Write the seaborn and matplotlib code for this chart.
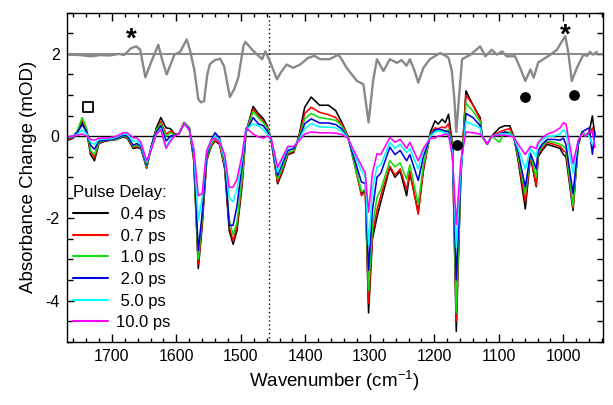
import matplotlib
matplotlib.use("Agg")
import matplotlib.pyplot as plt
from matplotlib.ticker import MultipleLocator
import pandas as pd
import seaborn as sns

# transient IR difference spectra, one list per pulse delay (mOD)
wavenumber = [1768, 1760, 1753, 1746, 1739, 1733, 1727, 1720, 1710, 1700,
              1692, 1683, 1676, 1667, 1661, 1655, 1646, 1638, 1631, 1624,
              1616, 1609, 1603, 1596, 1588, 1580, 1573, 1566, 1560, 1553,
              1546, 1540, 1533, 1525, 1518, 1512, 1506, 1498, 1492, 1481,
              1473, 1465, 1459, 1453, 1443, 1435, 1427, 1418, 1410, 1401,
              1391, 1378, 1364, 1353, 1344, 1334, 1325, 1313, 1307, 1302,
              1296, 1289, 1283, 1269, 1261, 1253, 1243, 1238, 1225, 1217,
              1206, 1199, 1194, 1188, 1183, 1178, 1172, 1166, 1159, 1151,
              1140, 1129, 1126, 1118, 1111, 1099, 1091, 1083, 1077, 1070,
              1059, 1051, 1042, 1039, 1033, 1025, 1015, 1005, 1000, 996,
              985, 977, 971, 966, 960, 955, 951]

delay_04 = [-0.10, -0.05, 0.10, 0.35, 0.10, -0.45, -0.60, -0.18, -0.12, -0.10,
            -0.08, -0.02, -0.05, -0.30, -0.28, -0.30, -0.78, -0.20, 0.20, 0.45,
            0.20, 0.18, 0.05, 0.05, 0.33, 0.20, -0.60, -3.22, -2.20, -0.60,
            -0.25, -0.12, -0.20, -0.80, -2.30, -2.63, -2.30, -1.20, 0.10, 0.72,
            0.55, 0.42, 0.25, -0.10, -1.16, -0.85, -0.45, -0.40, 0.00, 0.70,
            0.95, 0.75, 0.75, 0.62, 0.35, 0.00, -0.60, -1.40, -1.30, -4.30,
            -2.50, -1.97, -1.60, -0.76, -1.00, -0.85, -1.45, -0.90, -1.85, -0.84,
            0.10, 0.37, 0.29, 0.41, 0.33, 0.53, -0.20, -4.75, -1.00, 1.10,
            0.75, 0.45, 0.00, -0.20, 0.00, 0.20, 0.25, 0.25, 0.00, -0.60,
            -1.77, -0.50, -1.23, -0.50, -0.35, -0.20, -0.25, -0.30, -0.45, -0.50,
            -1.81, -0.20, 0.10, 0.00, 0.10, 0.49, 0.00]

delay_07 = [-0.08, -0.03, 0.12, 0.40, 0.15, -0.38, -0.52, -0.16, -0.11, -0.09,
            -0.07, 0.00, -0.03, -0.27, -0.25, -0.28, -0.76, -0.22, 0.15, 0.35,
            0.05, 0.12, 0.05, 0.05, 0.33, 0.20, -0.55, -3.12, -2.10, -0.58,
            -0.22, -0.10, -0.18, -0.75, -2.20, -2.55, -2.20, -1.10, 0.10, 0.65,
            0.50, 0.36, 0.22, -0.10, -1.12, -0.80, -0.43, -0.38, -0.02, 0.55,
            0.70, 0.58, 0.52, 0.45, 0.30, 0.00, -0.60, -1.45, -1.35, -4.07,
            -2.40, -1.80, -1.45, -0.73, -0.95, -0.80, -1.30, -0.85, -1.90, -0.80,
            0.05, 0.20, 0.18, 0.22, 0.20, 0.30, -0.20, -4.50, -0.90, 1.00,
            0.75, 0.40, 0.00, -0.20, 0.00, 0.10, 0.15, 0.18, 0.00, -0.55,
            -1.60, -0.48, -1.20, -0.45, -0.30, -0.15, -0.20, -0.25, -0.35, -0.40,
            -1.75, -0.20, 0.10, 0.05, 0.00, 0.20, 0.00]

delay_10 = [-0.06, -0.02, 0.15, 0.45, 0.18, -0.35, -0.45, -0.15, -0.10, -0.09,
            -0.07, 0.00, -0.02, -0.25, -0.22, -0.27, -0.74, -0.22, 0.15, 0.30,
            0.00, 0.08, 0.03, 0.05, 0.32, 0.20, -0.50, -3.00, -2.00, -0.55,
            -0.20, -0.05, -0.15, -0.70, -2.05, -2.40, -2.10, -1.00, 0.10, 0.60,
            0.45, 0.32, 0.20, -0.10, -1.05, -0.75, -0.40, -0.35, -0.05, 0.42,
            0.55, 0.45, 0.42, 0.38, 0.25, -0.02, -0.60, -1.35, -1.30, -3.75,
            -2.20, -1.50, -1.30, -0.60, -0.75, -0.65, -1.05, -0.70, -1.65, -0.70,
            0.03, 0.15, 0.15, 0.15, 0.12, 0.15, -0.20, -4.30, -0.90, 0.80,
            0.60, 0.35, 0.00, -0.20, 0.00, -0.15, 0.10, 0.10, -0.02, -0.50,
            -1.40, -0.45, -1.00, -0.40, -0.25, -0.12, -0.15, -0.20, -0.25, -0.30,
            -1.70, -0.20, 0.10, 0.00, 0.05, 0.10, 0.00]

delay_20 = [-0.05, 0.00, 0.10, 0.28, 0.10, -0.22, -0.32, -0.12, -0.10, -0.08,
            -0.05, 0.02, 0.00, -0.22, -0.18, -0.25, -0.70, -0.20, 0.10, 0.25,
            -0.12, 0.00, 0.02, 0.05, 0.30, 0.18, -0.45, -2.78, -1.90, -0.50,
            -0.10, 0.08, -0.05, -0.60, -2.17, -2.17, -1.70, -0.70, 0.10, 0.45,
            0.30, 0.25, 0.12, -0.10, -0.96, -0.65, -0.35, -0.30, -0.08, 0.30,
            0.42, 0.32, 0.32, 0.28, 0.18, -0.05, -0.50, -1.12, -1.15, -3.26,
            -1.80, -1.00, -0.90, -0.27, -0.45, -0.35, -0.60, -0.45, -1.08, -0.50,
            0.00, 0.15, 0.17, 0.15, 0.12, 0.10, -0.30, -3.50, -0.90, 0.55,
            0.45, 0.25, 0.00, -0.20, 0.00, 0.05, 0.10, 0.05, -0.02, -0.40,
            -1.24, -0.42, -0.80, -0.35, -0.20, -0.08, -0.08, -0.10, -0.05, -0.20,
            -1.40, -0.20, 0.10, 0.15, 0.20, -0.44, 0.10]

delay_50 = [-0.03, 0.00, 0.05, 0.15, 0.05, -0.15, -0.20, -0.08, -0.07, -0.06,
            -0.02, 0.05, 0.04, -0.12, -0.12, -0.20, -0.65, -0.25, 0.05, 0.18,
            -0.25, -0.08, 0.00, 0.05, 0.30, 0.15, -0.35, -2.05, -1.50, -0.40,
            -0.12, 0.00, -0.10, -0.55, -1.50, -1.60, -1.30, -0.55, 0.15, 0.30,
            0.25, 0.15, 0.05, -0.05, -0.88, -0.55, -0.28, -0.25, -0.10, 0.18,
            0.30, 0.22, 0.22, 0.20, 0.12, -0.05, -0.40, -0.85, -1.00, -2.65,
            -1.30, -0.75, -0.70, -0.15, -0.30, -0.20, -0.40, -0.30, -0.80, -0.35,
            0.00, 0.10, 0.12, 0.10, 0.08, 0.05, -0.40, -2.70, -0.80, 0.35,
            0.28, 0.20, 0.00, -0.20, 0.00, 0.05, 0.05, 0.05, -0.02, -0.30,
            -0.80, -0.30, -0.50, -0.20, -0.10, 0.00, 0.00, 0.05, 0.15, 0.10,
            -0.90, -0.10, 0.05, 0.05, 0.00, -0.20, -0.10]

delay_100 = [-0.02, 0.00, 0.02, 0.05, 0.00, -0.08, -0.10, -0.05, -0.05, -0.03,
             0.00, 0.08, 0.08, -0.04, -0.05, -0.15, -0.60, -0.30, 0.05, 0.15,
             -0.30, -0.12, 0.00, 0.05, 0.30, 0.15, -0.30, -1.45, -1.40, -0.35,
             -0.10, -0.05, -0.15, -0.45, -1.25, -1.24, -1.05, -0.45, 0.20, 0.05,
             -0.02, -0.05, 0.00, -0.05, -0.76, -0.50, -0.25, -0.25, -0.12, 0.05,
             0.10, 0.08, 0.08, 0.07, 0.04, -0.05, -0.35, -0.72, -0.90, -1.85,
             -0.90, -0.43, -0.45, -0.03, -0.15, -0.08, -0.30, -0.15, -0.60, -0.30,
             -0.05, -0.05, 0.00, 0.02, 0.05, 0.02, -0.50, -2.15, -0.60, 0.10,
             0.08, 0.05, 0.00, -0.20, 0.00, 0.02, 0.02, 0.00, -0.02, -0.20,
             -0.45, -0.25, -0.30, -0.15, -0.05, 0.05, 0.10, 0.20, 0.32, 0.30,
             -0.67, -0.10, 0.05, 0.00, 0.10, 0.10, -0.28]

# steady-state spectrum, drawn offset around the 2 mOD line
ftir_wn = [1769, 1749, 1732, 1718, 1703, 1689, 1681, 1670, 1662, 1656,
           1648, 1639, 1628, 1621, 1615, 1610, 1603, 1594, 1584, 1579,
           1572, 1566, 1562, 1557, 1552, 1548, 1540, 1532, 1526, 1517,
           1510, 1504, 1496, 1493, 1483, 1476, 1467, 1462, 1455, 1444,
           1438, 1429, 1419, 1408, 1396, 1386, 1377, 1362, 1349, 1343,
           1336, 1320, 1310, 1302, 1295, 1289, 1279, 1269, 1258, 1251,
           1243, 1238, 1231, 1225, 1217, 1207, 1191, 1181, 1178, 1173,
           1169, 1166, 1162, 1157, 1144, 1129, 1121, 1111, 1103, 1095,
           1088, 1075, 1067, 1059, 1051, 1046, 1039, 1028, 1020, 1010,
           1002, 997, 992, 987, 979, 969, 963, 959, 954, 948]
ftir_abs = [1.98, 1.97, 1.94, 1.97, 1.96, 2.00, 1.97, 2.14, 2.18, 2.10,
            1.43, 1.80, 2.22, 1.80, 1.50, 1.70, 1.98, 2.05, 2.35, 2.10,
            1.60, 0.90, 0.82, 0.85, 1.50, 1.75, 1.85, 1.88, 1.70, 0.95,
            1.15, 1.42, 2.19, 2.29, 2.11, 2.00, 1.87, 2.06, 1.82, 1.38,
            1.55, 1.74, 1.66, 1.74, 1.90, 1.95, 1.87, 1.87, 1.98, 1.85,
            1.66, 1.34, 1.26, 0.33, 1.34, 1.87, 1.58, 1.87, 1.78, 1.85,
            1.71, 1.87, 1.60, 1.30, 1.66, 1.87, 2.02, 1.94, 1.90, 1.60,
            0.90, 0.10, 0.90, 1.87, 1.98, 2.18, 1.94, 2.10, 1.98, 2.06,
            1.94, 1.94, 1.66, 1.34, 1.62, 1.42, 1.79, 1.90, 1.98, 2.10,
            2.31, 2.43, 2.00, 1.34, 1.66, 1.98, 1.95, 2.05, 1.98, 2.05]

delay_labels = [" 0.4 ps", " 0.7 ps", " 1.0 ps", " 2.0 ps", " 5.0 ps", "10.0 ps"]
delay_colors = ["#000000", "#ff0000", "#11dd11", "#0000dd", "#00ffff", "#ff00ff"]

# annotation symbols
star_wn = [1670, 997]
star_y = [2.57, 2.65]
dot_wn = [1060, 983, 1165]
dot_y = [0.96, 0.99, -0.21]
square_wn = [1737]
square_y = [0.71]
split_wn = 1456

sns.set_style("ticks", {"axes.edgecolor": "black", "xtick.color": "black",
                        "ytick.color": "black", "text.color": "black",
                        "axes.labelcolor": "black"})
plt.rcParams["font.family"] = ["Liberation Sans", "DejaVu Sans"]
plt.rcParams["axes.unicode_minus"] = False
plt.rcParams["mathtext.default"] = "regular"

wide = pd.DataFrame({"wavenumber": wavenumber,
                     delay_labels[0]: delay_04, delay_labels[1]: delay_07,
                     delay_labels[2]: delay_10, delay_labels[3]: delay_20,
                     delay_labels[4]: delay_50, delay_labels[5]: delay_100})
spectra = wide.melt(id_vars="wavenumber", var_name="delay", value_name="signal")
ftir = pd.DataFrame({"wavenumber": ftir_wn, "signal": ftir_abs})

fig = plt.figure(figsize=(6.13, 4.05), dpi=100)
ax = fig.add_axes([0.1088, 0.1563, 0.8744, 0.8123])

ax.axhline(0, color="black", lw=1.0, zorder=1)
ax.axhline(2, color="#808080", lw=1.3, zorder=1)
ax.axvline(split_wn, color="black", lw=1.0, ls=(0, (1, 2)), zorder=1)

sns.lineplot(data=ftir, x="wavenumber", y="signal", color="#888888", lw=1.7,
             sort=False, estimator=None, ax=ax)
sns.lineplot(data=spectra, x="wavenumber", y="signal", hue="delay",
             hue_order=delay_labels, palette=delay_colors, lw=1.15,
             sort=False, estimator=None, ax=ax)

for w, y in zip(star_wn, star_y):
    ax.annotate("*", xy=(w, y), xytext=(0, -11.5), textcoords="offset points",
                ha="center", va="baseline", fontsize=20, fontweight="bold")
ax.scatter(dot_wn, dot_y, s=45, color="black", zorder=5)
ax.scatter(square_wn, square_y, s=55, marker="s", facecolors="none",
           edgecolors="black", linewidths=1.3, zorder=5)

ax.set_xlim(1770, 939)
ax.set_ylim(-5, 3)
ax.xaxis.set_major_locator(MultipleLocator(100))
ax.xaxis.set_minor_locator(MultipleLocator(20))
ax.yaxis.set_major_locator(MultipleLocator(2))
ax.yaxis.set_minor_locator(MultipleLocator(0.5))
ax.tick_params(which="both", direction="in", top=True, right=True,
               labelsize=11.5, width=1.0)
ax.tick_params(axis="x", which="major", length=6, pad=5)
ax.tick_params(axis="x", which="minor", length=3)
ax.tick_params(axis="y", which="major", length=5, pad=5)
ax.tick_params(axis="y", which="minor", length=4)
for s in ax.spines.values():
    s.set_linewidth(1.0)

ax.set_xlabel("Wavenumber (cm$^{-1}$)", fontsize=13.5, labelpad=4)
ax.set_ylabel("Absorbance Change (mOD)", fontsize=13.5, labelpad=6)

leg = ax.legend(title="Pulse Delay:", loc="lower left",
                bbox_to_anchor=(0.012, 0.035), frameon=False, fontsize=12,
                title_fontsize=12, handlelength=2.1, handletextpad=0.5,
                labelspacing=0.4, borderaxespad=0, borderpad=0,
                alignment="left")
for h in leg.get_lines():
    h.set_linewidth(1.5)

fig.savefig("out.png", dpi=100)
